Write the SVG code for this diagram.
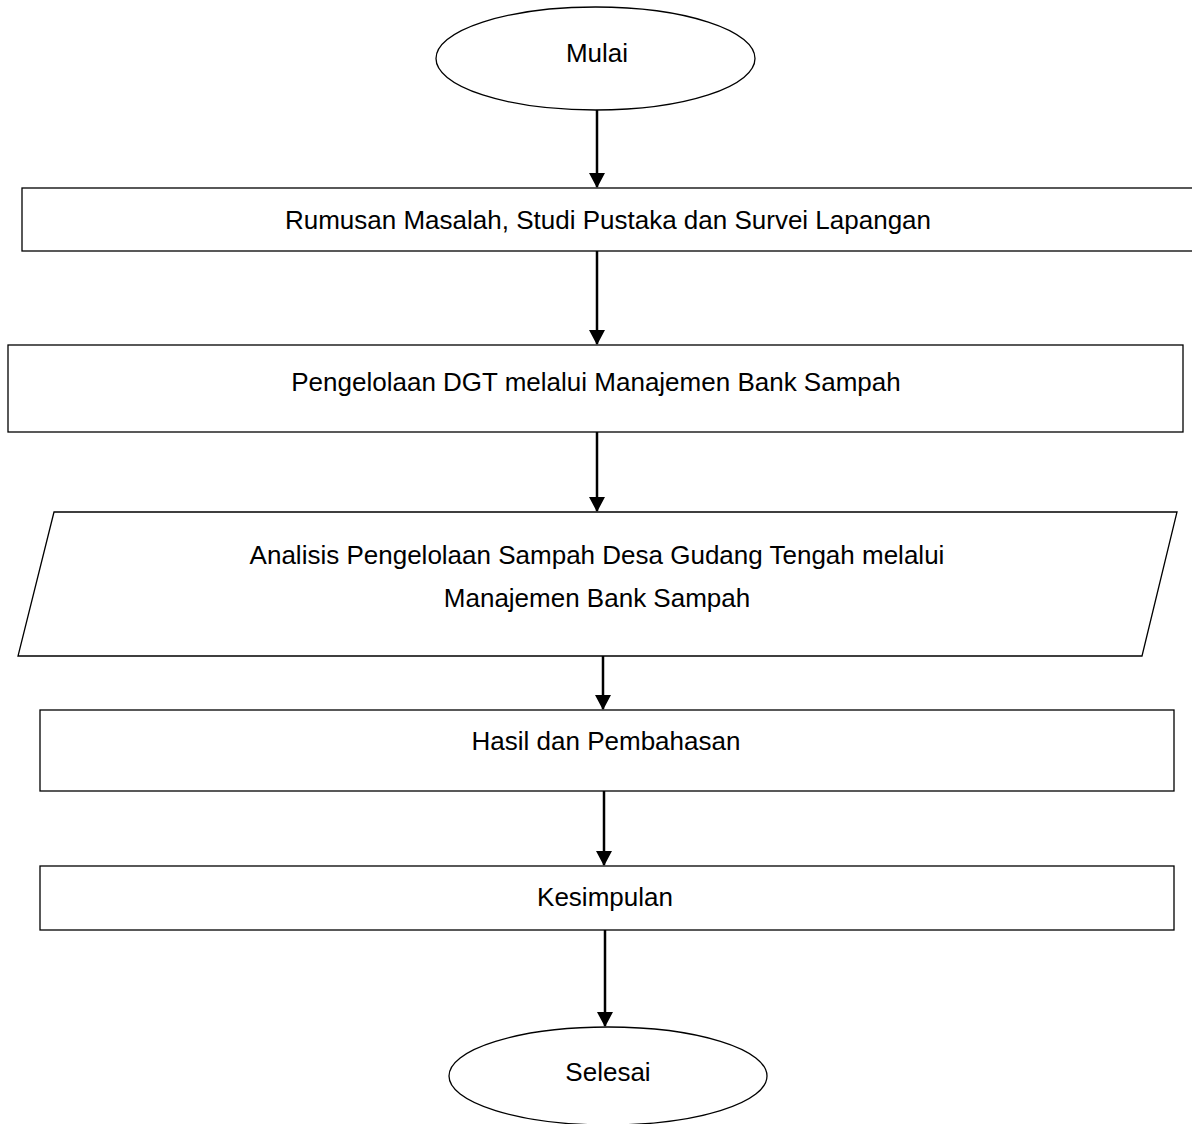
<svg xmlns="http://www.w3.org/2000/svg" width="1192" height="1124" viewBox="0 0 1192 1124">
<defs>
<marker id="ah" markerWidth="15" markerHeight="16" refX="14" refY="8" orient="auto" markerUnits="userSpaceOnUse">
<path d="M0,0 L15,8 L0,16 Z" fill="#000"/>
</marker>
<style>
.shape{fill:#fff;stroke:#000;stroke-width:1.3}
.lbl{font-family:"Liberation Sans",Arial,sans-serif;font-size:26px;fill:#000;text-anchor:middle}
.conn{stroke:#000;stroke-width:2.5;fill:none}
</style>
</defs>
<rect width="1192" height="1124" fill="#fff"/>
<g id="connectors">
<line class="conn" x1="597" y1="110" x2="597" y2="187" marker-end="url(#ah)"/>
<line class="conn" x1="597" y1="251" x2="597" y2="344" marker-end="url(#ah)"/>
<line class="conn" x1="597" y1="432" x2="597" y2="511" marker-end="url(#ah)"/>
<line class="conn" x1="603" y1="656" x2="603" y2="709" marker-end="url(#ah)"/>
<line class="conn" x1="604" y1="791" x2="604" y2="865" marker-end="url(#ah)"/>
<line class="conn" x1="605" y1="930" x2="605" y2="1026" marker-end="url(#ah)"/>
</g>
<g id="mulai">
<ellipse class="shape" cx="595.5" cy="58.5" rx="159.5" ry="51.5"/>
<text class="lbl" x="597" y="62">Mulai</text>
</g>
<g id="rumusan">
<rect class="shape" x="22" y="188" width="1172" height="63"/>
<text class="lbl" x="608" y="229">Rumusan Masalah, Studi Pustaka dan Survei Lapangan</text>
</g>
<g id="pengelolaan">
<rect class="shape" x="8" y="345" width="1175" height="87"/>
<text class="lbl" x="596" y="391">Pengelolaan DGT melalui Manajemen Bank Sampah</text>
</g>
<g id="analisis">
<polygon class="shape" points="54,512 1177,512 1142,656 18,656"/>
<text class="lbl" x="597" y="564">Analisis Pengelolaan Sampah Desa Gudang Tengah melalui</text>
<text class="lbl" x="597" y="607">Manajemen Bank Sampah</text>
</g>
<g id="hasil">
<rect class="shape" x="40" y="710" width="1134" height="81"/>
<text class="lbl" x="606" y="750">Hasil dan Pembahasan</text>
</g>
<g id="kesimpulan">
<rect class="shape" x="40" y="866" width="1134" height="64"/>
<text class="lbl" x="605" y="906">Kesimpulan</text>
</g>
<g id="selesai">
<ellipse class="shape" cx="608" cy="1076" rx="159" ry="49"/>
<text class="lbl" x="608" y="1081">Selesai</text>
</g>
</svg>
